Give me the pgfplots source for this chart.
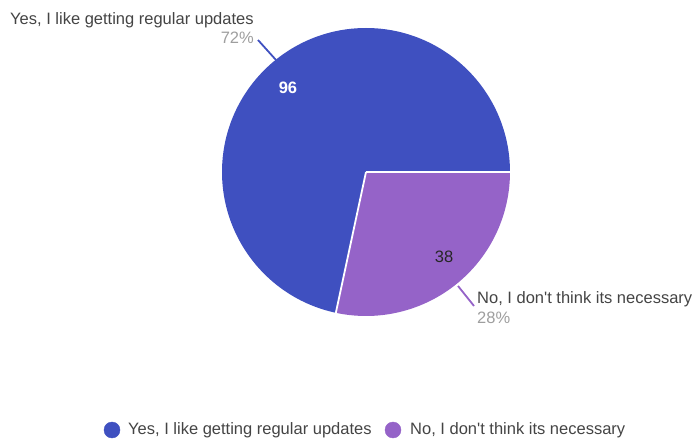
\documentclass[border=0pt]{standalone}
\usepackage{pgfplots}
\usepackage{pgfplotstable}
\pgfplotsset{compat=1.18}
\usepackage{fontspec}
\setmainfont{Liberation Sans}[Ligatures=TeXOff]
\definecolor{cA}{HTML}{3F50C0}
\definecolor{cB}{HTML}{9563C8}
\definecolor{lbl}{HTML}{444444}
\definecolor{pct}{HTML}{9E9E9E}
\pgfplotstableread{
label value
Yes 96
No 38
}\piedata
\begin{document}
\begin{tikzpicture}
\pgfplotstablegetelem{0}{value}\of\piedata \let\va\pgfplotsretval
\pgfplotstablegetelem{1}{value}\of\piedata \let\vb\pgfplotsretval
\pgfmathsetmacro{\angA}{\va/(\va+\vb)*360}
\begin{axis}[
  scale only axis, width=697pt, height=440pt,
  xmin=0, xmax=697, ymin=-440, ymax=0,
  hide axis, clip=false,
  font=\fontsize{16.5}{19}\selectfont,
]
\path (rel axis cs:0,0) rectangle (rel axis cs:1,1);
% slices
\fill[cA] (axis cs:366,-172) -- ++(0:144pt) arc[start angle=0, end angle=\angA, radius=144pt] -- cycle;
\fill[cB] (axis cs:366,-172) -- ++(\angA:144pt) arc[start angle=\angA, end angle=360, radius=144pt] -- cycle;
\draw[white, line width=1.8pt] (axis cs:366,-172) -- ++(0:145pt);
\draw[white, line width=1.8pt] (axis cs:366,-172) -- ++(\angA:145pt);
% labels
\node[anchor=west, inner sep=0, text=lbl] at (axis cs:10,-20) {Yes, I like getting regular updates};
\node[anchor=east, inner sep=0, text=pct] at (axis cs:254,-38) {72\%};
\draw[cA, line width=1.8pt] (axis cs:258,-40) -- (axis cs:276,-60);
\node[text=white] at (axis cs:288,-88) {\bfseries 96};
\node[text=black!85] at (axis cs:444,-257) {38};
\draw[cB, line width=1.8pt] (axis cs:458,-286) -- (axis cs:474,-306);
\node[anchor=west, inner sep=0, text=lbl] at (axis cs:477,-299) {No, I don't think its necessary};
\node[anchor=west, inner sep=0, text=pct] at (axis cs:477,-318) {28\%};
% legend
\addplot[only marks, mark=*, mark size=8pt, cA] coordinates {(112,-430)};
\addplot[only marks, mark=*, mark size=8pt, cB] coordinates {(393,-430)};
\node[anchor=west, inner sep=0, text=lbl] at (axis cs:128,-430) {Yes, I like getting regular updates};
\node[anchor=west, inner sep=0, text=lbl] at (axis cs:410,-430) {No, I don't think its necessary};
\end{axis}
\end{tikzpicture}
\end{document}
